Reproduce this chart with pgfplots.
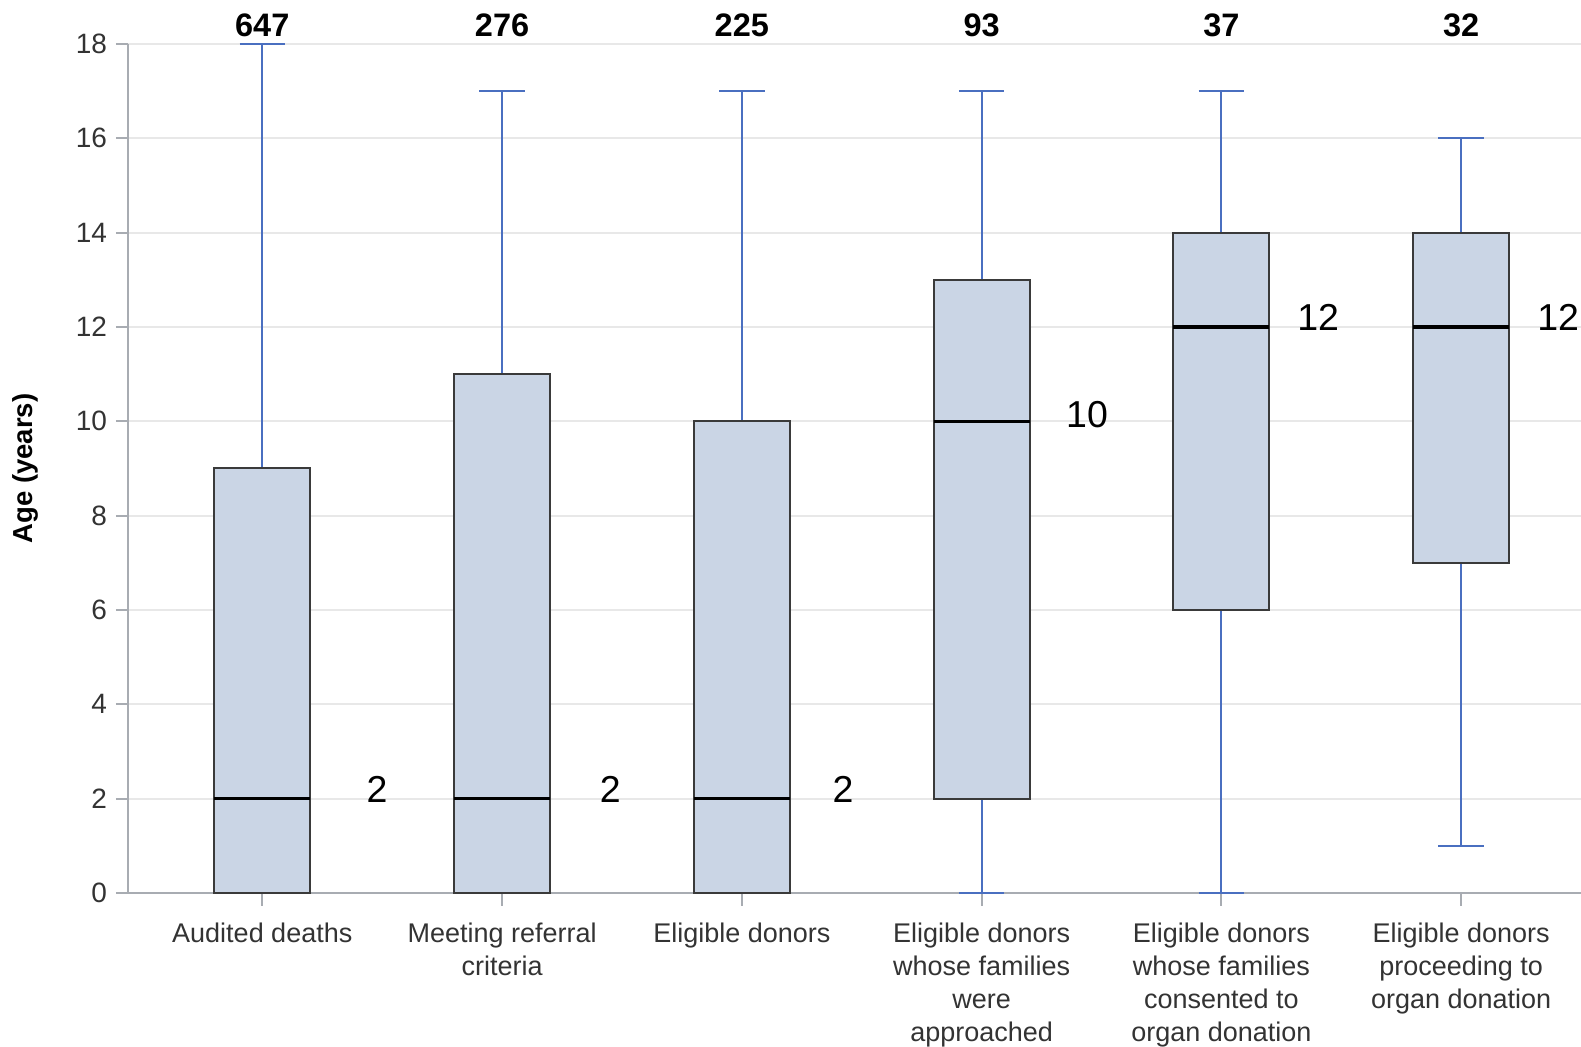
\documentclass[border=0pt]{standalone}
\usepackage{fontspec}
\setmainfont{Liberation Sans}
\usepackage{pgfplots}
\pgfplotsset{compat=1.18}
\usepgfplotslibrary{statistics}
\definecolor{boxfill}{HTML}{CAD5E5}
\definecolor{boxborder}{HTML}{3A3A3A}
\definecolor{whisk}{HTML}{4A6FC0}
\definecolor{spine}{HTML}{A8ACB2}
\definecolor{gridc}{HTML}{E8E8E8}
\definecolor{labc}{HTML}{333333}
\begin{document}
\begin{tikzpicture}
\begin{axis}[
  name=ax,
  scale only axis,
  width=581.1pt, height=339.6pt,
  xmin=-0.559, xmax=5.5,
  ymin=0, ymax=18,
  ytick={0,2,...,18},
  xtick={0,1,2,3,4,5},
  xticklabels={{Audited deaths},{Meeting referral\\criteria},{Eligible donors},{Eligible donors\\whose families\\were\\approached},{Eligible donors\\whose families\\consented to\\organ donation},{Eligible donors\\proceeding to\\organ donation}},
  axis x line*=bottom, axis y line*=left,
  axis line style={color=spine, line width=0.8pt},
  tick align=outside,
  major tick length=5pt,
  tick style={color=spine, line width=0.8pt},
  ymajorgrids,
  major grid style={color=gridc, line width=0.8pt},
  /pgf/number format/assume math mode=true,
  yticklabel style={font=\fontsize{11.2}{13.2}\selectfont, text=labc},
  xticklabel style={font=\fontsize{10.8}{13.2}\selectfont, text=labc, align=center, yshift=-3.6pt},
  ylabel={Age (years)},
  ylabel style={font=\fontsize{11}{13}\selectfont\bfseries, at={(axis description cs:-0.0709,0.5)}, anchor=center},
  clip=false,
  boxplot/draw direction=y,
  boxplot/every box/.style={draw=boxborder, fill=boxfill, line width=0.8pt},
  boxplot/every whisker/.style={draw=whisk, line width=0.8pt},
  boxplot/every median/.style={draw=black, line width=1.3pt},
]
\addplot[boxplot prepared={lower whisker=0, lower quartile=0, median=2, upper quartile=9, upper whisker=18, draw position=0, box extend=0.4, whisker extend=0.19}] coordinates {};
\addplot[boxplot prepared={lower whisker=0, lower quartile=0, median=2, upper quartile=11, upper whisker=17, draw position=1, box extend=0.4, whisker extend=0.19}] coordinates {};
\addplot[boxplot prepared={lower whisker=0, lower quartile=0, median=2, upper quartile=10, upper whisker=17, draw position=2, box extend=0.4, whisker extend=0.19}] coordinates {};
\addplot[boxplot prepared={lower whisker=0, lower quartile=2, median=10, upper quartile=13, upper whisker=17, draw position=3, box extend=0.4, whisker extend=0.19}] coordinates {};
\addplot[boxplot prepared={lower whisker=0, lower quartile=6, median=12, upper quartile=14, upper whisker=17, draw position=4, box extend=0.4, whisker extend=0.19}] coordinates {};
\addplot[boxplot prepared={lower whisker=1, lower quartile=7, median=12, upper quartile=14, upper whisker=16, draw position=5, box extend=0.4, whisker extend=0.19}] coordinates {};
% counts
\node[font=\fontsize{13}{15}\selectfont\bfseries, yshift=7.6pt] at (axis cs:0,18) {647};
\node[font=\fontsize{13}{15}\selectfont\bfseries, yshift=7.6pt] at (axis cs:1,18) {276};
\node[font=\fontsize{13}{15}\selectfont\bfseries, yshift=7.6pt] at (axis cs:2,18) {225};
\node[font=\fontsize{13}{15}\selectfont\bfseries, yshift=7.6pt] at (axis cs:3,18) {93};
\node[font=\fontsize{13}{15}\selectfont\bfseries, yshift=7.6pt] at (axis cs:4,18) {37};
\node[font=\fontsize{13}{15}\selectfont\bfseries, yshift=7.6pt] at (axis cs:5,18) {32};
% median labels
\node[font=\fontsize{15}{17}\selectfont] at (axis cs:0.479,2.2) {2};
\node[font=\fontsize{15}{17}\selectfont] at (axis cs:1.451,2.2) {2};
\node[font=\fontsize{15}{17}\selectfont] at (axis cs:2.422,2.2) {2};
\node[font=\fontsize{15}{17}\selectfont] at (axis cs:3.440,10.15) {10};
\node[font=\fontsize{15}{17}\selectfont] at (axis cs:4.404,12.2) {12};
\node[font=\fontsize{15}{17}\selectfont] at (axis cs:5.405,12.2) {12};
\end{axis}
\pgfresetboundingbox
\path ([shift={(-51.3pt,-61.6pt)}]ax.south west) rectangle ([shift={(0pt,17.6pt)}]ax.north east);
\end{tikzpicture}
\end{document}
